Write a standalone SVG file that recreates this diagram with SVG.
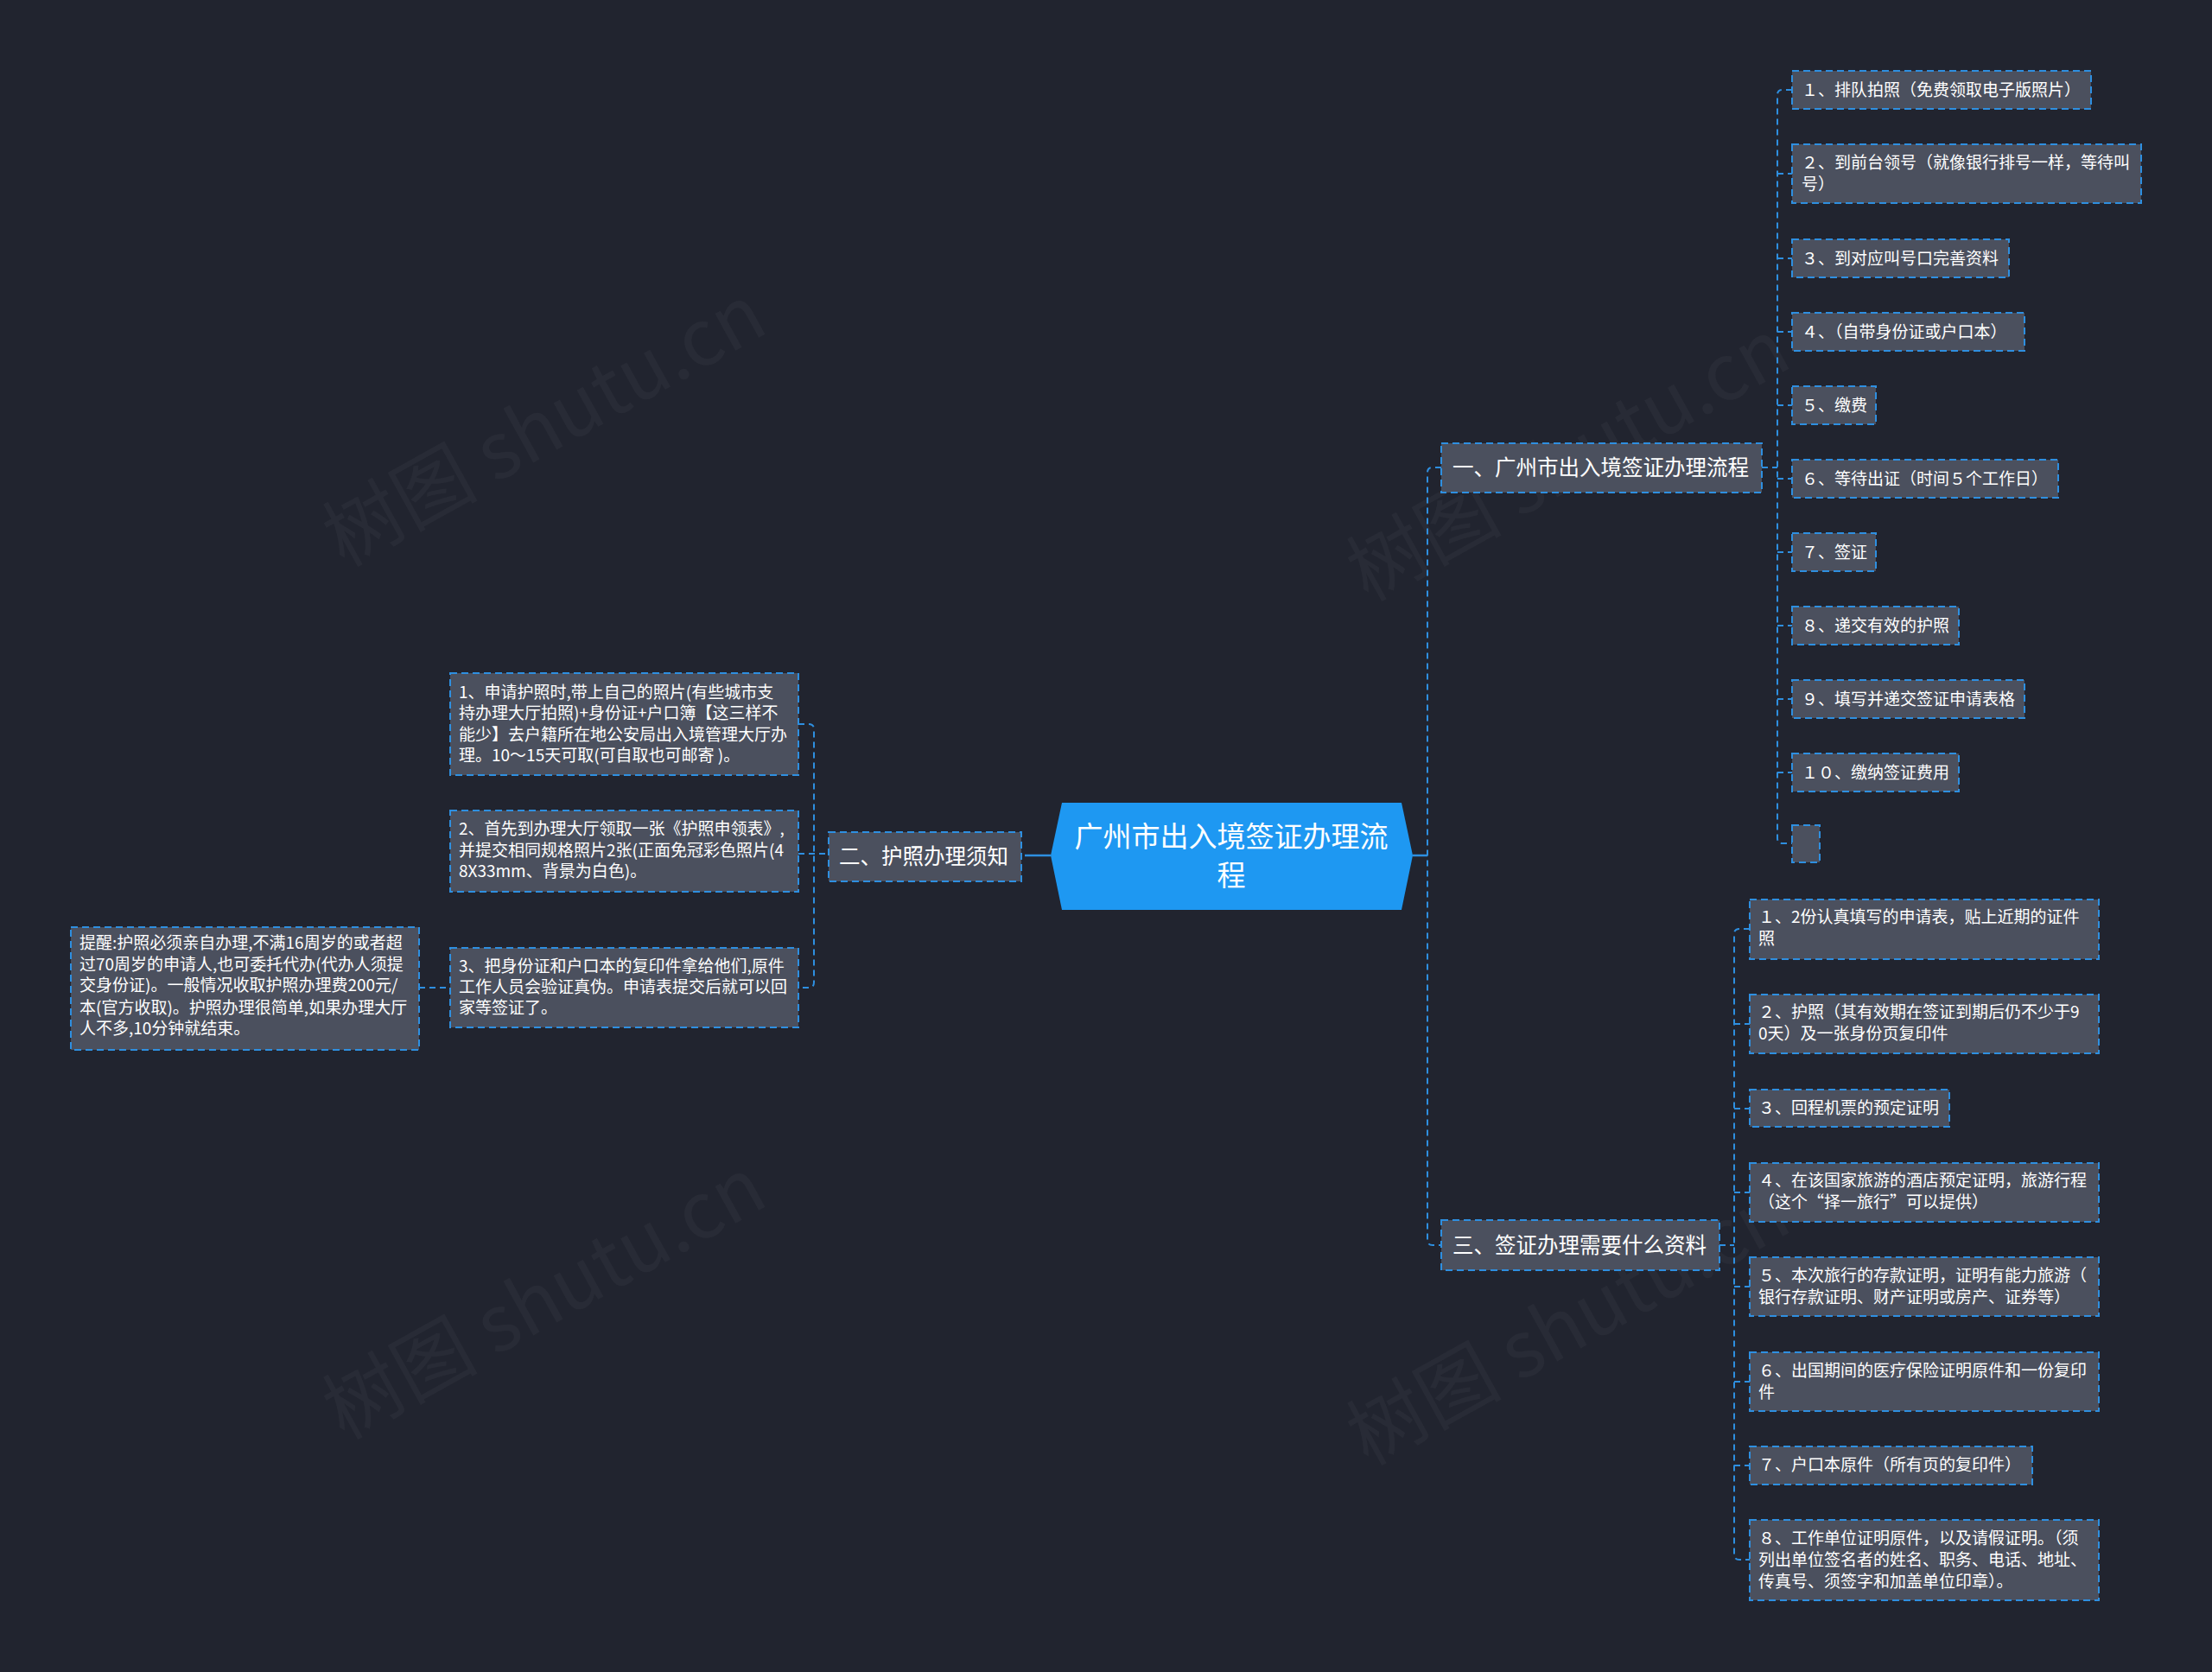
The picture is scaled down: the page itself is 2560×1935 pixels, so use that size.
<svg xmlns="http://www.w3.org/2000/svg" width="2560" height="1935" viewBox="0 0 2560 1935">
<style>
.bg{fill:#21242F}
.box{fill:#4B505E;stroke:#2E8FE0;stroke-width:2;stroke-dasharray:8 5}
.t{font-family:"Noto Sans CJK SC","Microsoft YaHei",sans-serif;fill:#FFFFFF}
.s{font-size:19px}
.m{font-size:24.5px}
.c{font-size:33px}
.ln{fill:none;stroke:#2E8FE0;stroke-width:2;stroke-dasharray:7 5}
.sl{fill:none;stroke:#2E8FE0;stroke-width:2.5}
.wm{font-family:"Noto Sans CJK SC",sans-serif;font-size:90px;fill:#FFFFFF;fill-opacity:0.035}
</style>
<rect class="bg" x="0" y="0" width="2560" height="1935"/>
<g id="watermarks">
<text class="wm" transform="translate(645,520) rotate(-29)" text-anchor="middle">树图 shutu.cn</text>
<text class="wm" transform="translate(1830,560) rotate(-29)" text-anchor="middle">树图 shutu.cn</text>
<text class="wm" transform="translate(645,1530) rotate(-29)" text-anchor="middle">树图 shutu.cn</text>
<text class="wm" transform="translate(1830,1560) rotate(-29)" text-anchor="middle">树图 shutu.cn</text>
</g>
<g id="connectors">
<path class="sl" d="M1635 990 H1652"/>
<path class="sl" d="M1186 990 H1216"/>
<path class="ln" d="M1668 541 H1658 Q1652 541 1652 547 V1435 Q1652 1441 1658 1441 H1668"/>
<path class="ln" d="M2039 541 H2057"/>
<path class="ln" d="M2074 104 H2063 Q2057 104 2057 110 V970 Q2057 976 2063 976 H2074"/>
<path class="ln" d="M2057 201 H2074"/>
<path class="ln" d="M2057 299 H2074"/>
<path class="ln" d="M2057 384 H2074"/>
<path class="ln" d="M2057 469 H2074"/>
<path class="ln" d="M2057 554 H2074"/>
<path class="ln" d="M2057 639 H2074"/>
<path class="ln" d="M2057 724 H2074"/>
<path class="ln" d="M2057 809 H2074"/>
<path class="ln" d="M2057 894 H2074"/>
<path class="ln" d="M1990 1441 H2007"/>
<path class="ln" d="M2025 1075 H2013 Q2007 1075 2007 1081 V1799 Q2007 1805 2013 1805 H2025"/>
<path class="ln" d="M2007 1185 H2025"/>
<path class="ln" d="M2007 1283 H2025"/>
<path class="ln" d="M2007 1380 H2025"/>
<path class="ln" d="M2007 1489 H2025"/>
<path class="ln" d="M2007 1599 H2025"/>
<path class="ln" d="M2007 1696 H2025"/>
<path class="ln" d="M924 838 H936 Q942 838 942 844 V1137 Q942 1143 936 1143 H924"/>
<path class="ln" d="M924 988 H959"/>
<path class="ln" d="M485 1143 H521"/>
</g>
<g id="root">
<polygon points="1216,990 1229,929 1622,929 1635,990 1622,1053 1229,1053" fill="#1E98F2"/>
<text class="t c" text-anchor="middle"><tspan x="1425" y="980">广州市出入境签证办理流</tspan><tspan x="1425" y="1025">程</tspan></text>
</g>
<g id="n1">
<rect class="box" x="1668" y="513" width="371" height="57"/>
<text class="t m" x="1681" y="550">一、广州市出入境签证办理流程</text>
</g>
<g id="n2">
<rect class="box" x="959" y="963" width="223" height="57"/>
<text class="t m" x="971" y="1000">二、护照办理须知</text>
</g>
<g id="n3">
<rect class="box" x="1668" y="1412" width="322" height="58"/>
<text class="t m" x="1681" y="1450">三、签证办理需要什么资料</text>
</g>
<g id="n1-1"><rect class="box" x="2074" y="82" width="346" height="44"/><text class="t s" x="2085" y="111">１、排队拍照（免费领取电子版照片）</text></g>
<g id="n1-2"><rect class="box" x="2074" y="167" width="404" height="68"/><text class="t s"><tspan x="2085" y="195">２、到前台领号（就像银行排号一样，等待叫</tspan><tspan x="2085" y="220">号）</tspan></text></g>
<g id="n1-3"><rect class="box" x="2074" y="277" width="251" height="44"/><text class="t s" x="2085" y="306">３、到对应叫号口完善资料</text></g>
<g id="n1-4"><rect class="box" x="2074" y="362" width="269" height="44"/><text class="t s" x="2085" y="391">４、（自带身份证或户口本）</text></g>
<g id="n1-5"><rect class="box" x="2074" y="447" width="97" height="44"/><text class="t s" x="2085" y="476">５、缴费</text></g>
<g id="n1-6"><rect class="box" x="2074" y="532" width="308" height="44"/><text class="t s" x="2085" y="561">６、等待出证（时间５个工作日）</text></g>
<g id="n1-7"><rect class="box" x="2074" y="617" width="97" height="44"/><text class="t s" x="2085" y="646">７、签证</text></g>
<g id="n1-8"><rect class="box" x="2074" y="702" width="193" height="44"/><text class="t s" x="2085" y="731">８、递交有效的护照</text></g>
<g id="n1-9"><rect class="box" x="2074" y="787" width="269" height="44"/><text class="t s" x="2085" y="816">９、填写并递交签证申请表格</text></g>
<g id="n1-10"><rect class="box" x="2074" y="872" width="193" height="44"/><text class="t s" x="2085" y="901">１０、缴纳签证费用</text></g>
<g id="n1-11"><rect class="box" x="2074" y="955" width="32" height="43"/></g>
<g id="n3-1"><rect class="box" x="2025" y="1041" width="404" height="69"/><text class="t s"><tspan x="2035" y="1068">１、2份认真填写的申请表，贴上近期的证件</tspan><tspan x="2035" y="1093">照</tspan></text></g>
<g id="n3-2"><rect class="box" x="2025" y="1151" width="404" height="68"/><text class="t s"><tspan x="2035" y="1178">２、护照（其有效期在签证到期后仍不少于9</tspan><tspan x="2035" y="1203">0天）及一张身份页复印件</tspan></text></g>
<g id="n3-3"><rect class="box" x="2025" y="1261" width="231" height="43"/><text class="t s" x="2035" y="1289">３、回程机票的预定证明</text></g>
<g id="n3-4"><rect class="box" x="2025" y="1346" width="404" height="68"/><text class="t s"><tspan x="2035" y="1373">４、在该国家旅游的酒店预定证明，旅游行程</tspan><tspan x="2035" y="1398">（这个“择一旅行”可以提供）</tspan></text></g>
<g id="n3-5"><rect class="box" x="2025" y="1455" width="404" height="68"/><text class="t s"><tspan x="2035" y="1483">５、本次旅行的存款证明，证明有能力旅游（</tspan><tspan x="2035" y="1508">银行存款证明、财产证明或房产、证券等）</tspan></text></g>
<g id="n3-6"><rect class="box" x="2025" y="1565" width="404" height="68"/><text class="t s"><tspan x="2035" y="1593">６、出国期间的医疗保险证明原件和一份复印</tspan><tspan x="2035" y="1618">件</tspan></text></g>
<g id="n3-7"><rect class="box" x="2025" y="1674" width="327" height="44"/><text class="t s" x="2035" y="1702">７、户口本原件（所有页的复印件）</text></g>
<g id="n3-8"><rect class="box" x="2025" y="1759" width="404" height="93"/><text class="t s"><tspan x="2035" y="1787">８、工作单位证明原件，以及请假证明。（须</tspan><tspan x="2035" y="1812">列出单位签名者的姓名、职务、电话、地址、</tspan><tspan x="2035" y="1837">传真号、须签字和加盖单位印章）。</tspan></text></g>
<g id="n2-1"><rect class="box" x="521" y="779" width="403" height="118"/><text class="t s"><tspan x="531" y="808">1、申请护照时,带上自己的照片(有些城市支</tspan><tspan x="531" y="832">持办理大厅拍照)+身份证+户口簿【这三样不</tspan><tspan x="531" y="857">能少】去户籍所在地公安局出入境管理大厅办</tspan><tspan x="531" y="881">理。10～15天可取(可自取也可邮寄 )。</tspan></text></g>
<g id="n2-2"><rect class="box" x="521" y="938" width="403" height="94"/><text class="t s"><tspan x="531" y="966">2、首先到办理大厅领取一张《护照申领表》,</tspan><tspan x="531" y="991">并提交相同规格照片2张(正面免冠彩色照片(4</tspan><tspan x="531" y="1015">8X33mm、背景为白色)。</tspan></text></g>
<g id="n2-3"><rect class="box" x="521" y="1097" width="403" height="92"/><text class="t s"><tspan x="531" y="1125">3、把身份证和户口本的复印件拿给他们,原件</tspan><tspan x="531" y="1149">工作人员会验证真伪。申请表提交后就可以回</tspan><tspan x="531" y="1173">家等签证了。</tspan></text></g>
<g id="n2-3-1"><rect class="box" x="82" y="1073" width="403" height="142"/><text class="t s"><tspan x="92" y="1098">提醒:护照必须亲自办理,不满16周岁的或者超</tspan><tspan x="92" y="1123">过70周岁的申请人,也可委托代办(代办人须提</tspan><tspan x="92" y="1147">交身份证)。一般情况收取护照办理费200元/</tspan><tspan x="92" y="1173">本(官方收取)。护照办理很简单,如果办理大厅</tspan><tspan x="92" y="1197">人不多,10分钟就结束。</tspan></text></g>
</svg>
